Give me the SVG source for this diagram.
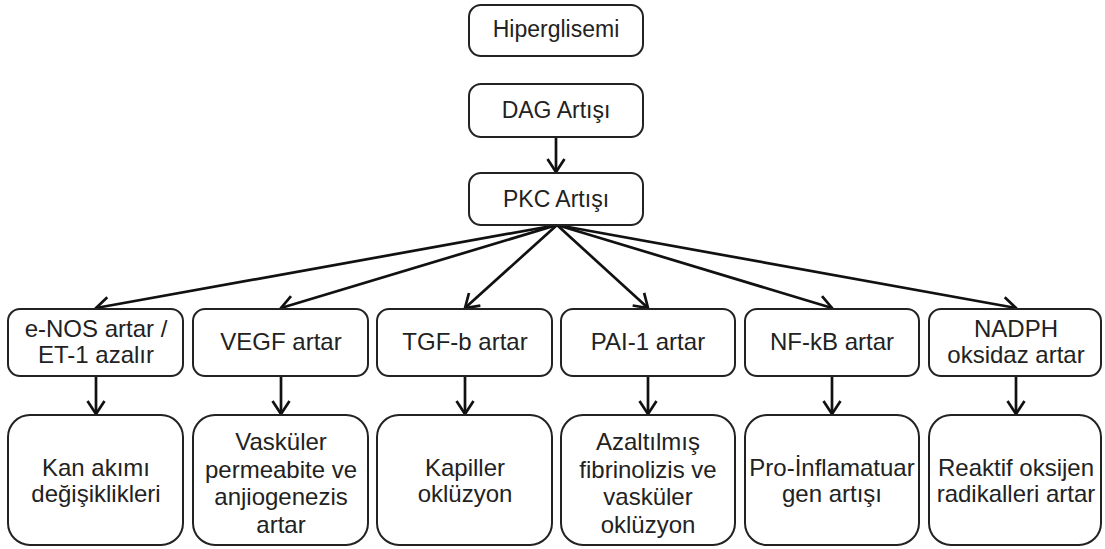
<svg xmlns="http://www.w3.org/2000/svg" width="1105" height="549" viewBox="0 0 1105 549">
<style>
.b{fill:#fff;stroke:#222;stroke-width:2}
.t{font-family:"Liberation Sans",Arial,sans-serif;font-size:23px;fill:#222;text-anchor:middle}
.t1{font-family:"Liberation Sans",Arial,sans-serif;font-size:24px;fill:#222;text-anchor:middle}
.t2{font-family:"Liberation Sans",Arial,sans-serif;font-size:24px;fill:#222;text-anchor:middle}
.c{stroke:#111;stroke-width:2.7;fill:none;marker-end:url(#ah)}
</style>
<defs>
<marker id="ah" markerUnits="userSpaceOnUse" markerWidth="30" markerHeight="30" viewBox="-15 -15 30 30" refX="0" refY="0" orient="auto" overflow="visible">
<path d="M-13,-8.5 L0,0 L-13,8.5" fill="none" stroke="#111" stroke-width="2.7" stroke-linejoin="miter"/>
</marker>
</defs>
<rect width="1105" height="549" fill="#fff"/>
<g id="connectors">
<line class="c" x1="556" y1="137" x2="556" y2="172"/>
<line class="c" x1="557" y1="225" x2="96" y2="308"/>
<line class="c" x1="557" y1="225" x2="281" y2="308"/>
<line class="c" x1="557" y1="225" x2="465" y2="308"/>
<line class="c" x1="557" y1="225" x2="648" y2="308"/>
<line class="c" x1="557" y1="225" x2="832" y2="308"/>
<line class="c" x1="557" y1="225" x2="1016" y2="308"/>
<line class="c" x1="96" y1="376" x2="96" y2="414"/>
<line class="c" x1="281" y1="376" x2="281" y2="414"/>
<line class="c" x1="465" y1="376" x2="465" y2="414"/>
<line class="c" x1="648" y1="376" x2="648" y2="414"/>
<line class="c" x1="832" y1="376" x2="832" y2="414"/>
<line class="c" x1="1016" y1="376" x2="1016" y2="414"/>
</g>
<g id="n-hiper"><rect class="b" x="469" y="5" width="174" height="51" rx="12"/><text class="t" x="556" y="37">Hiperglisemi</text></g>
<g id="n-dag"><rect class="b" x="469" y="84" width="174" height="53" rx="12"/><text class="t" x="556" y="118">DAG Artışı</text></g>
<g id="n-pkc"><rect class="b" x="469" y="173" width="174" height="52" rx="12"/><text class="t" x="556" y="207">PKC Artışı</text></g>

<g id="n-enos"><rect class="b" x="8" y="309" width="175" height="67" rx="12"/><text class="t1" x="96" y="337">e-NOS artar /</text><text class="t1" x="96" y="363">ET-1 azalır</text></g>
<g id="n-vegf"><rect class="b" x="193" y="309" width="175" height="67" rx="12"/><text class="t1" x="281" y="350">VEGF artar</text></g>
<g id="n-tgf"><rect class="b" x="377" y="309" width="175" height="67" rx="12"/><text class="t1" x="465" y="350">TGF-b artar</text></g>
<g id="n-pai"><rect class="b" x="561" y="309" width="174" height="67" rx="12"/><text class="t1" x="648" y="350">PAI-1 artar</text></g>
<g id="n-nfkb"><rect class="b" x="745" y="309" width="174" height="67" rx="12"/><text class="t1" x="832" y="350">NF-kB artar</text></g>
<g id="n-nadph"><rect class="b" x="929" y="309" width="172" height="67" rx="12"/><text class="t1" x="1016" y="337">NADPH</text><text class="t1" x="1016" y="363">oksidaz artar</text></g>

<g id="n-kan"><rect class="b" x="8" y="415" width="175" height="130" rx="22"/><text class="t2" x="96" y="476">Kan akımı</text><text class="t2" x="96" y="502">değişiklikleri</text></g>
<g id="n-vask"><rect class="b" x="193" y="415" width="175" height="130" rx="22"/><text class="t2" x="281" y="450">Vasküler</text><text class="t2" x="281" y="477.5">permeabite ve</text><text class="t2" x="281" y="505">anjiogenezis</text><text class="t2" x="281" y="532.5">artar</text></g>
<g id="n-kap"><rect class="b" x="377" y="415" width="175" height="130" rx="22"/><text class="t2" x="465" y="476">Kapiller</text><text class="t2" x="465" y="502">oklüzyon</text></g>
<g id="n-azal"><rect class="b" x="561" y="415" width="174" height="130" rx="22"/><text class="t2" x="648" y="450">Azaltılmış</text><text class="t2" x="648" y="477.5">fibrinolizis ve</text><text class="t2" x="648" y="505">vasküler</text><text class="t2" x="648" y="532.5">oklüzyon</text></g>
<g id="n-pro"><rect class="b" x="745" y="415" width="174" height="130" rx="22"/><text class="t2" x="832" y="476">Pro-İnflamatuar</text><text class="t2" x="832" y="502">gen artışı</text></g>
<g id="n-reak"><rect class="b" x="929" y="415" width="172" height="130" rx="22"/><text class="t2" x="1016" y="476">Reaktif oksijen</text><text class="t2" x="1016" y="502">radikalleri artar</text></g>
</svg>
